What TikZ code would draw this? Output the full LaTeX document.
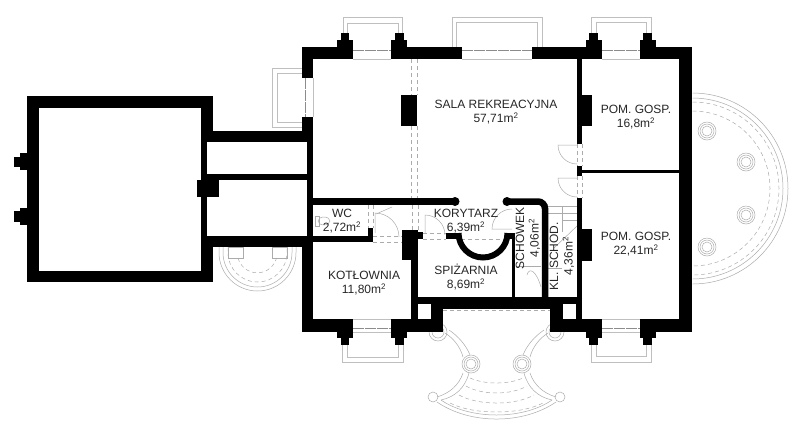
\documentclass[tikz,border=0pt]{standalone}
\usepackage{fontspec}
\setmainfont{Liberation Sans}
\tikzset{
  wall/.style={fill=black},
  wallline/.style={draw=black, line width=6.5pt},
  plan/.style={draw=black!33, line width=0.5pt},
  plandash/.style={draw=black!33, line width=0.5pt, dash pattern=on 4pt off 3pt},
  frame/.style={draw=black!25, line width=0.9pt},
  glass/.style={draw=black!45, line width=1pt, dash pattern=on 11pt off 1pt},
  roomlabel/.style={align=center, text=black!85, inner sep=0pt, font=\fontsize{12}{14.5}\selectfont}
}
\begin{document}
\begin{tikzpicture}[x=1pt, y=1pt, yscale=-1]
            \useasboundingbox (0,0) rectangle (800,432);
            % balconies
            \draw [frame] (343,33) -- (343,17) -- (402,17) -- (402,33);
            \draw [frame] (347,33) -- (347,23) -- (398,23) -- (398,33);
            \draw [frame] (452,47) -- (452,17) -- (542,17) -- (542,47);
            \draw [frame] (456,47) -- (456,22) -- (537,22) -- (537,47);
            \draw [frame] (591,33) -- (591,17) -- (651,17) -- (651,33);
            \draw [frame] (596,33) -- (596,22) -- (646,22) -- (646,33);
            \draw [frame] (302,68) -- (272,68) -- (272,127) -- (302,127);
            \draw [frame] (302,73) -- (277,73) -- (277,122) -- (302,122);
            \draw [frame] (342,345) -- (342,362) -- (403,362) -- (403,345);
            \draw [frame] (347,345) -- (347,357) -- (398,357) -- (398,345);
            \draw [frame] (591,345) -- (591,362) -- (651,362) -- (651,345);
            \draw [frame] (596,345) -- (596,356) -- (646,356) -- (646,345);
            % windows
            \draw [frame] (353,59) -- (391,59);
            \draw [glass] (353,50) -- (391,50);
            \draw [frame] (462,59) -- (532,59);
            \draw [glass] (462,50) -- (532,50);
            \draw [frame] (602,59) -- (640,59);
            \draw [glass] (602,50) -- (640,50);
            \draw [frame] (313,78) -- (313,117);
            \draw [glass] (305,78) -- (305,117);
            \draw [frame] (353,319) -- (391,319);
            \draw [glass] (353,328) -- (391,328);
            \draw [frame] (353,332) -- (391,332);
            \draw [frame] (602,319) -- (640,319);
            \draw [glass] (602,328) -- (640,328);
            \draw [frame] (602,332) -- (640,332);
            % terrace under the annex
            \draw [plan] (219,247) -- (219,252.5) arc (180:0:38.5) -- (296,247);
            \draw [plan] (223,247) -- (223,252.5) arc (180:0:34.5) -- (292,247);
            \draw [plandash] (228,247) -- (228,252.5) arc (180:0:29.5) -- (287,247);
            \draw [plandash] (238,258) arc (165:15:20);
            \draw [plan] (228,247) rectangle (243,258);
            \draw [plan] (272,247) rectangle (287,258);
            % rotunda
            \draw [plan] (692.5,93) arc (-90:90:95.5);
            \draw [plan] (692.5,98) arc (-90:90:90.5);
            \draw [plandash] (692.5,102) arc (-90:90:86.5);
            \draw [plandash] (692.5,111) arc (-90:90:77.5);
            \draw [plan] (707,131) circle (9);
            \draw [plan] (707,131) circle (7);
            \draw [plan] (707,131) circle (5);
            \draw [plan] (746,162) circle (9);
            \draw [plan] (746,162) circle (7);
            \draw [plan] (746,162) circle (5);
            \draw [plan] (746,215) circle (9);
            \draw [plan] (746,215) circle (7);
            \draw [plan] (746,215) circle (5);
            \draw [plan] (707,247) circle (9);
            \draw [plan] (707,247) circle (7);
            \draw [plan] (707,247) circle (5);
            % entrance steps
            \draw [plan] (438,332) circle (9);
            \draw [plan] (438,332) circle (6);
            \draw [plan] (555,332) circle (9);
            \draw [plan] (555,332) circle (6);
            \draw [plan, fill=white] (471,364) circle (9);
            \draw [plan] (471,364) circle (7);
            \draw [plan] (471,364) circle (5);
            \draw [plan, fill=white] (522,364) circle (9);
            \draw [plan] (522,364) circle (7);
            \draw [plan] (522,364) circle (5);
            \draw [plan] (445,333) .. controls (453,338) and (460,346) .. (463,357);
            \draw [plan] (449,330) .. controls (458,336) and (466,345) .. (470,355);
            \draw [plan] (548,333) .. controls (540,338) and (533,346) .. (530,357);
            \draw [plan] (544,330) .. controls (535,336) and (527,345) .. (523,355);
            \draw [plan] (463,373) .. controls (459,385) and (450,393) .. (437,397);
            \draw [plan] (469,373) .. controls (465,388) and (455,397) .. (441,400);
            \draw [plan] (530,373) .. controls (534,385) and (543,393) .. (556,397);
            \draw [plan] (524,373) .. controls (528,388) and (538,397) .. (552,400);
            \draw [plan] (433,397) circle (5);
            \draw [plan] (560,397) circle (5);
            \draw [plan] (437,402) .. controls (470,424.7) and (523,424.7) .. (556,402);
            \draw [plan] (441,400) .. controls (470,420) and (523,420) .. (552,400);
            \draw [plandash] (470,378) .. controls (485,384.7) and (508,384.7) .. (523,378);
            \draw [plandash] (466,386) .. controls (482,395.3) and (511,395.3) .. (527,386);
            \draw [plandash] (459,395) .. controls (478,405.7) and (515,405.7) .. (534,395);
            \draw [plandash] (450,403) .. controls (473,415) and (520,415) .. (543,403);
            \draw [plandash] (443,310) -- (550,310);
            % dashed openings
            \draw [plandash] (411,59) -- (411,95);
            \draw [plandash] (417,59) -- (417,95);
            \draw [plandash] (411,126) -- (411,198);
            \draw [plandash] (417,126) -- (417,198);
            \draw [plandash] (412,205) -- (412,230);
            \draw [plandash] (418,205) -- (418,232);
            \draw [plandash] (577,144) -- (577,166);
            \draw [plandash] (582,144) -- (582,166);
            \draw [plandash] (577,176) -- (577,198);
            \draw [plandash] (582,176) -- (582,198);
            \draw [plandash] (368,205) -- (368,228);
            \draw [plandash] (373,205) -- (373,228);
            \draw [plandash] (373,236) -- (402,236);
            \draw [plandash] (373,242) -- (402,242);
            \draw [plandash] (423,233) -- (446,233);
            \draw [plandash] (423,239) -- (446,239);
            \draw [plandash] (461,239) -- (503,239);
            % doors
            \draw [plan] (577,145) -- (558,145) arc (180:90:19);
            \draw [plan] (577,178) -- (558,178) arc (180:90:19);
            \draw [plan] (375,233) -- (375,213) arc (-90:0:24);
            \draw [plan] (376,214) -- (392,207);
            \draw [plan] (425,233) -- (425,215) arc (-90:0:20);
            \draw [plan] (512,229) -- (492,229) arc (180:270:20);
            % fixtures and stairs
            \draw [plan] (315,216) rectangle (319,226);
            \draw [plan] (324,221) ellipse (6 and 4);
            \draw [plan] (548,206) -- (577,206);
            \draw [plan] (562,206) -- (562,232);
            \draw [plan] (548,213) -- (577,213);
            \draw [plan] (562,220) -- (577,220);
            \draw [plan] (577,226) -- (554,248);
            \draw [plan] (548,268) -- (562,268);
            \draw [plan] (516,266) -- (541,266);
            \draw [plan] (527,275) .. controls (529,267) and (536,270) .. (541,287);
            % annex walls
            \fill [wall] (27,96) rectangle (213,108);
            \fill [wall] (27,96) rectangle (38.5,282);
            \fill [wall] (27,271) rectangle (213,282);
            \fill [wall] (201,96) rectangle (207,282);
            \fill [wall] (201,96) rectangle (213,142);
            \fill [wall] (201,236) rectangle (213,282);
            \fill [wall] (20,153) rectangle (27,170);
            \fill [wall] (13.5,157) rectangle (20,167);
            \fill [wall] (20,208) rectangle (27,225);
            \fill [wall] (13.5,211) rectangle (20,222);
            \fill [wall] (201,131) rectangle (305,142);
            \fill [wall] (207,174) rectangle (307,180);
            \fill [wall] (197,180) rectangle (219,197);
            \fill [wall] (207,236) rectangle (313,247);
            % outer walls
            \fill [wall] (302,47) rectangle (353,59);
            \fill [wall] (391,47) rectangle (462,59);
            \fill [wall] (532,47) rectangle (602,59);
            \fill [wall] (640,47) rectangle (692,59);
            \fill [wall] (679,47) rectangle (692,332);
            \fill [wall] (302,47) rectangle (313,78);
            \fill [wall] (302,117) rectangle (313,142);
            \fill [wall] (307,142) rectangle (313,236);
            \fill [wall] (302,236) rectangle (313,332);
            \fill [wall] (302,319) rectangle (353,332);
            \fill [wall] (391,319) rectangle (443,332);
            \fill [wall] (550,319) rectangle (602,332);
            \fill [wall] (640,319) rectangle (692,332);
            % pilasters
            \fill [wall] (337,40) rectangle (353,47);
            \fill [wall] (341,33) rectangle (349,40);
            \fill [wall] (391,40) rectangle (407,47);
            \fill [wall] (395,33) rectangle (404,40);
            \fill [wall] (586,40) rectangle (602,47);
            \fill [wall] (589,33) rectangle (598,40);
            \fill [wall] (640,40) rectangle (656,47);
            \fill [wall] (643,33) rectangle (652,40);
            \fill [wall] (337,332) rectangle (353,338);
            \fill [wall] (341,338) rectangle (349,345);
            \fill [wall] (391,332) rectangle (407,338);
            \fill [wall] (395,338) rectangle (404,345);
            \fill [wall] (586,332) rectangle (602,338);
            \fill [wall] (589,338) rectangle (598,345);
            \fill [wall] (640,332) rectangle (656,338);
            \fill [wall] (643,338) rectangle (652,345);
            % inner walls
            \fill [wall] (577,59) rectangle (582,144);
            \fill [wall] (582,95) rectangle (592,126);
            \fill [wall] (577,166) rectangle (582,176);
            \fill [wall] (577,169.5) rectangle (679,172.5);
            \fill [wall] (577,198) rectangle (582,319);
            \fill [wall] (582,229) rectangle (592,261);
            \fill [wall] (401,95) rectangle (417,126);
            \fill [wall] (313,198) rectangle (455,205);
            \fill [wall] (455,201.5) circle (4.5);
            \fill [wall] (507,201.5) circle (4.5);
            \draw [wallline, rounded corners=7pt] (507,201.5) -- (545,201.5) -- (545,297);
            \fill [wall] (313,236) rectangle (373,242);
            \fill [wall] (368,228) rectangle (373,236);
            \fill [wall] (402,230) rectangle (418,260);
            \fill [wall] (411,260) rectangle (418,319);
            \fill [wall] (418,232) rectangle (423,239);
            \fill [wall] (446,233) rectangle (457,239);
            \draw [wallline, line width=6pt] (458.5,233) arc (180:0:24.5);
            \fill [wall] (506,233) rectangle (514.5,239);
            \fill [wall] (512,233) rectangle (514.5,297);
            % core round the light wells
            \fill [wall] (418,297) rectangle (582,304);
            \fill [wall] (431,297) rectangle (550,309);
            \fill [wall] (431,297) rectangle (443,332);
            \fill [wall] (550,297) rectangle (563,332);
            \fill [wall] (576,297) rectangle (582,332);
            \fill [wall] (418,319) rectangle (431,332);
            \fill [wall] (563,319) rectangle (576,332);
            % room labels
            \node [roomlabel] (sala) at (496,112) {SALA REKREACYJNA\\57,71m\textsuperscript{2}};
            \node [roomlabel] (pomgora) at (636,117) {POM. GOSP.\\16,8m\textsuperscript{2}};
            \node [roomlabel] (pomdol) at (636,244) {POM. GOSP.\\22,41m\textsuperscript{2}};
            \node [roomlabel] (wc) at (342,221) {WC\\2,72m\textsuperscript{2}};
            \node [roomlabel] (korytarz) at (466,221) {KORYTARZ\\6,39m\textsuperscript{2}};
            \node [roomlabel] (spizarnia) at (466,277) {SPIŻARNIA\\8,69m\textsuperscript{2}};
            \node [roomlabel] (kotlownia) at (364,283) {KOTŁOWNIA\\11,80m\textsuperscript{2}};
            \node [roomlabel, rotate=90] (schowek) at (528,238) {SCHOWEK\\4,06m\textsuperscript{2}};
            \node [roomlabel, rotate=90] (klschod) at (562,256) {KL. SCHOD.\\4,36m\textsuperscript{2}};
\end{tikzpicture}
\end{document}
